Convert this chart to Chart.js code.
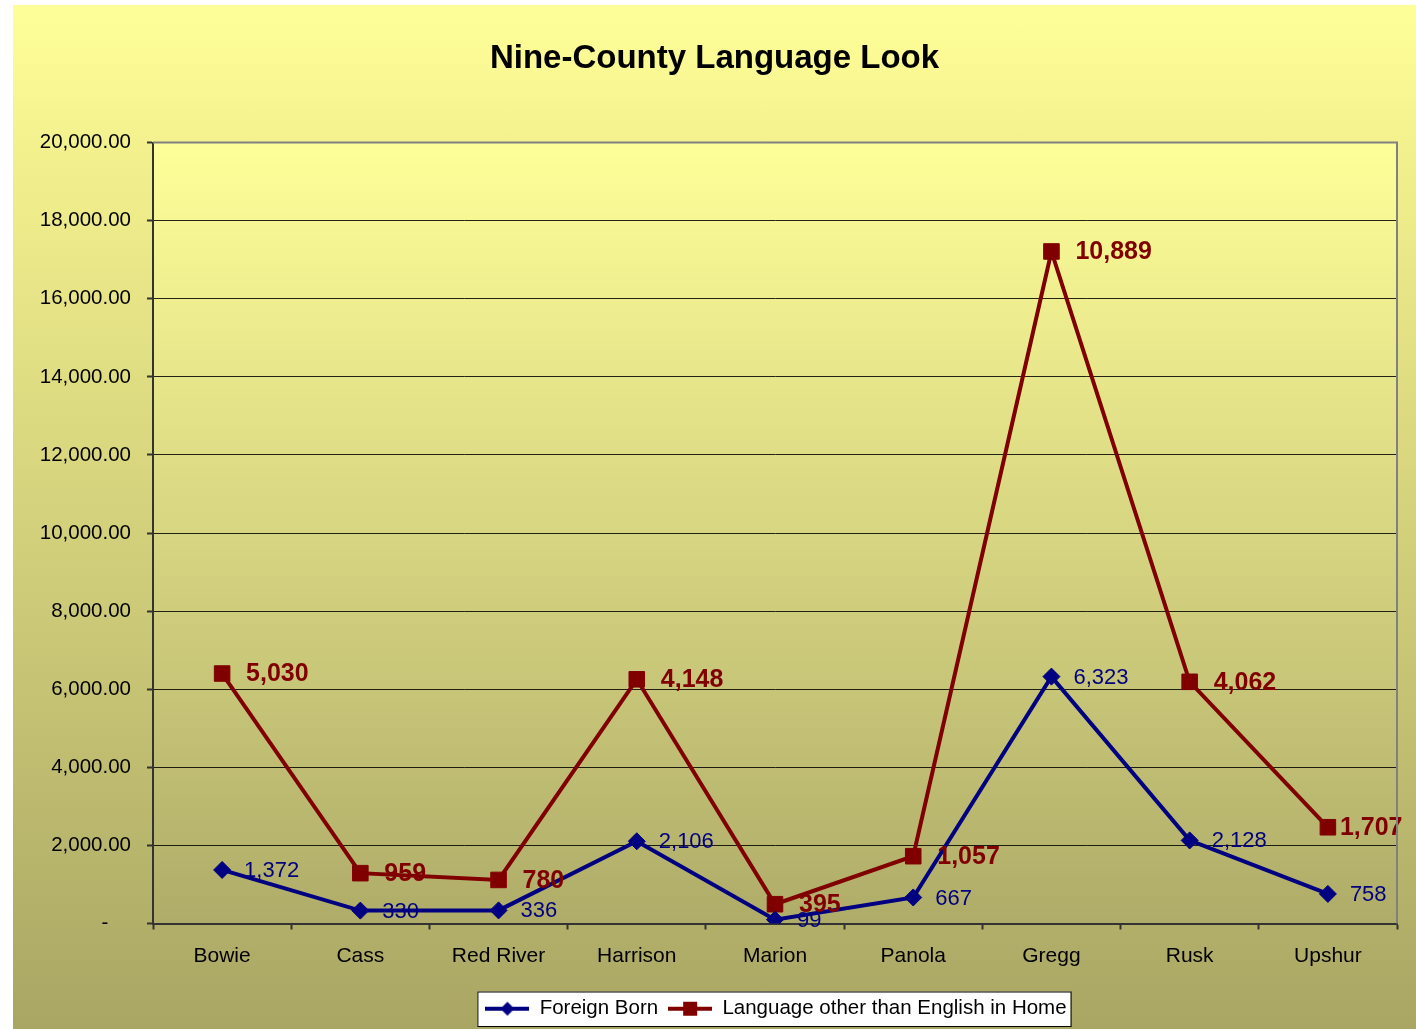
<!DOCTYPE html>
<html>
<head>
<meta charset="utf-8">
<script src="https://cdn.jsdelivr.net/npm/chart.js@4.4.1/dist/chart.umd.min.js"></script>
<style>
  html, body { margin: 0; padding: 0; background: #ffffff; }
  #bg { position: absolute; left: 13px; top: 5px; width: 1403px; height: 1024px;
        background: linear-gradient(to bottom, #FFFF99 0%, #F2F08D 15%, #A9A664 100%); }
  #c { position: absolute; left: 0; top: 0; }
</style>
</head>
<body>
<div id="bg"></div>
<canvas id="c" width="1416" height="1029"></canvas>
<script>
const chartTitle = 'Nine-County Language Look';
const categories = ['Bowie', 'Cass', 'Red River', 'Harrison', 'Marion', 'Panola', 'Gregg', 'Rusk', 'Upshur'];
const foreignBorn = [1372, 330, 336, 2106, 99, 667, 6323, 2128, 758];
const otherLanguage = [5030, 959, 780, 4148, 395, 1057, 10889, 4062, 1707];
const seriesNames = ['Foreign Born', 'Language other than English in Home'];
const yMin = 0, yMax = 20000, yStep = 2000;

const BLUE = '#000080';
const RED = '#800000';
const FONT = "'Liberation Sans', Arial, sans-serif";

function fmtInt(v) {
  return String(Math.round(v)).replace(/\B(?=(\d{3})+(?!\d))/g, ',');
}
function fmtTick(v) {
  if (v === 0) return '-    ';
  const s = v.toFixed(2).split('.');
  return s[0].replace(/\B(?=(\d{3})+(?!\d))/g, ',') + '.' + s[1];
}

function legendIcon(color, shape) {
  const cv = document.createElement('canvas');
  cv.width = 44; cv.height = 18;
  const g = cv.getContext('2d');
  g.strokeStyle = color; g.lineWidth = 4;
  g.beginPath(); g.moveTo(0, 9); g.lineTo(44, 9); g.stroke();
  g.fillStyle = color;
  g.beginPath();
  if (shape === 'diamond') {
    g.moveTo(22, 2); g.lineTo(29, 9); g.lineTo(22, 16); g.lineTo(15, 9); g.closePath();
  } else {
    g.rect(15, 2, 14, 14);
  }
  g.fill();
  return cv;
}
const icons = [legendIcon(BLUE, 'diamond'), legendIcon(RED, 'square')];

const frame = {
  id: 'frame',
  afterLayout(chart) {
    if (chart.titleBlock) { chart.titleBlock.left = 13; chart.titleBlock.right = 1416; }
    if (chart.legend) { chart.legend.left += 71; chart.legend.right += 71; }
  },
  beforeDraw(chart) {
    const ctx = chart.ctx, a = chart.chartArea;
    ctx.save();
    const grd = ctx.createLinearGradient(0, a.top, 0, a.bottom);
    grd.addColorStop(0, '#FFFF99');
    grd.addColorStop(1, '#AFAC69');
    ctx.fillStyle = grd;
    ctx.fillRect(a.left, a.top, a.right - a.left, a.bottom - a.top);
    const lg = chart.legend;
    if (lg && lg.legendHitBoxes && lg.legendHitBoxes.length) {
      const hb = lg.legendHitBoxes;
      const l = hb[0].left - 8, r = hb[hb.length - 1].left + hb[hb.length - 1].width + 4;
      const t = hb[0].top - 7, b = hb[0].top + hb[0].height + 7;
      ctx.fillStyle = '#ffffff';
      ctx.fillRect(l, t, r - l, b - t);
      ctx.strokeStyle = '#000000'; ctx.lineWidth = 1;
      ctx.strokeRect(l + 0.5, t + 0.5, r - l, b - t);
    }
    ctx.restore();
  },
  afterDraw(chart) {
    const ctx = chart.ctx, a = chart.chartArea;
    ctx.save();
    ctx.strokeStyle = '#808080'; ctx.lineWidth = 2;
    ctx.beginPath();
    ctx.moveTo(a.left, a.top); ctx.lineTo(a.right, a.top); ctx.lineTo(a.right, a.bottom);
    ctx.stroke();
    ctx.restore();
  }
};

const dataLabels = {
  id: 'dataLabels',
  afterDatasetsDraw(chart) {
    const ctx = chart.ctx, a = chart.chartArea;
    ctx.save();
    ctx.textBaseline = 'middle';
    ctx.textAlign = 'left';
    chart.data.datasets.forEach((ds, di) => {
      const meta = chart.getDatasetMeta(di);
      ctx.fillStyle = ds.borderColor;
      ctx.font = di === 0 ? `22px ${FONT}` : `bold 25px ${FONT}`;
      meta.data.forEach((pt, i) => {
        const txt = fmtInt(ds.data[i]);
        const w = ctx.measureText(txt).width;
        let x = pt.x + (di === 0 ? 22 : 24);
        if (x + w > a.right + 4) x = Math.max(pt.x + 12, a.right + 4 - w);
        ctx.fillText(txt, x, pt.y + 1);
      });
    });
    ctx.restore();
  }
};

new Chart(document.getElementById('c'), {
  type: 'line',
  data: {
    labels: categories,
    datasets: [
      {
        label: seriesNames[0], data: foreignBorn,
        borderColor: BLUE, backgroundColor: BLUE, borderWidth: 4,
        pointStyle: 'rectRot', pointRadius: 8.5, pointBorderWidth: 1,
        pointBackgroundColor: BLUE, pointBorderColor: BLUE, fill: false, tension: 0
      },
      {
        label: seriesNames[1], data: otherLanguage,
        borderColor: RED, backgroundColor: RED, borderWidth: 4,
        pointStyle: 'rect', pointRadius: 11, pointBorderWidth: 1,
        pointBackgroundColor: RED, pointBorderColor: RED, fill: false, tension: 0
      }
    ]
  },
  options: {
    responsive: false,
    animation: false,
    layout: { padding: { left: 13, right: 19, top: 5, bottom: 0 } },
    plugins: {
      title: {
        display: true, text: chartTitle, color: '#000',
        font: { family: FONT, size: 33, weight: 'bold' },
        padding: { top: 34, bottom: 64 }
      },
      legend: {
        position: 'bottom',
        labels: {
          usePointStyle: true, pointStyleWidth: 44, boxHeight: 18,
          padding: 10, color: '#000',
          font: { family: FONT, size: 20.5 },
          generateLabels(chart) {
            return chart.data.datasets.map((ds, i) => ({
              text: ds.label, pointStyle: icons[i], fillStyle: ds.borderColor,
              strokeStyle: ds.borderColor, lineWidth: 0, datasetIndex: i, hidden: false
            }));
          }
        }
      },
      tooltip: { enabled: false }
    },
    scales: {
      x: {
        offset: true,
        grid: { display: true, drawOnChartArea: false, drawTicks: true, tickLength: 6, offset: true, tickColor: '#333', tickWidth: 2 },
        border: { color: '#333', width: 2 },
        ticks: { color: '#000', font: { family: FONT, size: 21 }, padding: 14, maxRotation: 0, autoSkip: false },
        afterFit(s) { s.height = 65; }
      },
      y: {
        stacked: true,
        min: yMin, max: yMax,
        grid: {
          color: (c) => (c.tick && c.tick.value === yMax) ? 'rgba(0,0,0,0)' : 'rgba(0,0,0,0.85)',
          lineWidth: 1, tickLength: 6, tickColor: '#333', tickWidth: 2
        },
        border: { color: '#333', width: 2 },
        ticks: { stepSize: yStep, color: '#000', font: { family: FONT, size: 20.5 }, padding: 16, callback: (v) => fmtTick(v) },
        afterFit(s) { s.width = 140; }
      }
    }
  },
  plugins: [frame, dataLabels]
});
</script>
</body>
</html>
